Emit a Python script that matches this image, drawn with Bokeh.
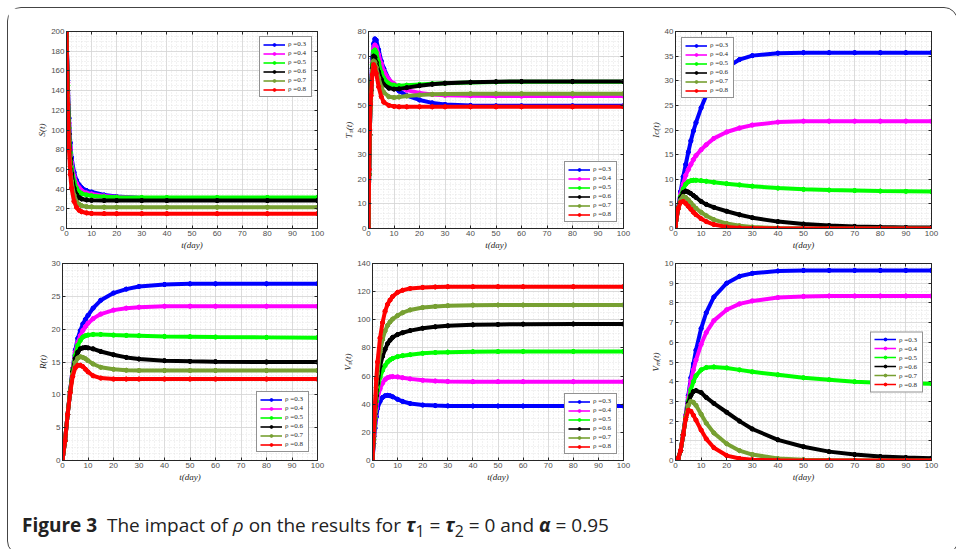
import numpy as np
from bokeh.plotting import figure
from bokeh.models import LinearAxis, Legend, LegendItem, Div, Range1d, FixedTicker
from bokeh.layouts import column, row
from bokeh.embed import file_html
from bokeh.resources import INLINE

# ---------------- data ----------------
rho_labels = ["ρ =0.3", "ρ =0.4", "ρ =0.5", "ρ =0.6", "ρ =0.7", "ρ =0.8"]
colors = ["#0000ff", "#ff00ff", "#00ff00", "#000000", "#77a032", "#ff0000"]

# S(t)
t_S = [0, 0.5, 1, 1.5, 2, 3, 4, 5, 6, 8, 10, 15, 20, 30, 40, 60, 80, 100]
S_03 = [200, 150, 112, 87, 72, 57, 49, 44.5, 41.5, 38.5, 37, 34, 32.5, 31, 30.6, 30.5, 30.5, 30.5]
S_04 = [200, 148, 107, 82, 67, 53, 45.5, 41.5, 38.5, 36, 35, 33, 32, 31, 30.6, 30.5, 30.5, 30.5]
S_05 = [200, 145, 102, 77, 62, 48, 41, 37.5, 35.5, 34, 33.2, 32.2, 31.8, 31.5, 31.5, 31.5, 31.5, 31.5]
S_06 = [200, 140, 96, 71, 56, 41, 34.5, 31.5, 30, 29, 28.6, 28.4, 28.3, 28.3, 28.3, 28.3, 28.3, 28.3]
S_07 = [200, 135, 89, 63, 48, 34, 27.5, 24.5, 23.2, 22.2, 21.9, 21.7, 21.6, 21.6, 21.6, 21.6, 21.6, 21.6]
S_08 = [200, 126, 80, 55, 41, 27.5, 21.5, 18.5, 17, 15.8, 15.3, 15.1, 15, 15, 15, 15, 15, 15]

# T_s(t)
t_T = [0, 0.25, 0.5, 0.75, 1, 1.5, 2, 2.5, 3, 4, 5, 6, 8, 10, 12, 15, 20, 25, 30, 40, 50, 60, 80, 100]
T_03 = [0, 22, 38, 50, 58, 69, 75, 77, 76.5, 72.5, 68, 65, 60.5, 57.5, 55.8, 54, 52.2, 51, 50.4, 50, 49.8, 49.8, 49.8, 49.8]
T_04 = [0, 22, 38, 50, 57, 67.5, 73, 74.5, 73.8, 70.5, 67, 64, 60.5, 58.8, 57.5, 56.2, 55, 54.4, 54.1, 53.9, 53.8, 53.8, 53.8, 53.8]
T_05 = [0, 22, 38, 50, 56.5, 66.5, 72, 72.5, 71.5, 67.5, 63.5, 61, 58.8, 58.2, 58, 58.2, 58.5, 58.8, 59, 59.3, 59.5, 59.6, 59.6, 59.6]
T_06 = [0, 22, 38, 50, 56, 65, 70, 69.5, 67.5, 63.5, 60.5, 58.5, 57, 56.6, 56.7, 57.2, 58, 58.6, 59, 59.4, 59.6, 59.7, 59.7, 59.7]
T_07 = [0, 22, 38, 49, 55, 64, 68, 67.5, 65.5, 61, 57.5, 55.3, 53.5, 53.2, 53.4, 53.8, 54.2, 54.5, 54.6, 54.7, 54.7, 54.7, 54.7, 54.7]
T_08 = [0, 24, 40, 50.5, 54, 62.5, 66.5, 65.5, 63, 57.5, 53.5, 51.3, 50, 49.6, 49.4, 49.4, 49.4, 49.4, 49.4, 49.4, 49.4, 49.4, 49.4, 49.4]

# I_c(t)
t_I = [0, 1, 2, 3, 4, 5, 6, 7, 8, 10, 12, 15, 20, 25, 30, 40, 50, 60, 70, 80, 90, 100]
I_03 = [0.5, 4, 7.5, 10.5, 13, 15.5, 17.8, 19.8, 21.5, 24.5, 27, 30, 32.7, 34.3, 35.1, 35.6, 35.7, 35.7, 35.7, 35.7, 35.7, 35.7]
I_04 = [0.5, 4, 7, 9, 10.8, 12, 13, 14, 14.8, 16, 17, 18.3, 19.6, 20.4, 21, 21.6, 21.8, 21.8, 21.8, 21.8, 21.8, 21.8]
I_05 = [0.5, 4, 6.5, 8, 9, 9.5, 9.7, 9.8, 9.8, 9.7, 9.6, 9.4, 9.1, 8.85, 8.6, 8.2, 7.95, 7.8, 7.7, 7.6, 7.55, 7.5]
I_06 = [0.5, 4, 6.2, 7.3, 7.6, 7.4, 7.1, 6.7, 6.3, 5.5, 4.9, 4.3, 3.5, 2.8, 2.2, 1.4, 0.9, 0.6, 0.42, 0.3, 0.22, 0.18]
I_07 = [0.5, 4, 5.8, 6.5, 6.3, 5.8, 5.2, 4.6, 4.1, 3.3, 2.6, 1.8, 1.0, 0.55, 0.3, 0.1, 0.04, 0.02, 0.01, 0, 0, 0]
I_08 = [0.5, 4, 5.3, 5.5, 5.1, 4.5, 3.9, 3.3, 2.8, 2.0, 1.4, 0.8, 0.3, 0.12, 0.05, 0.01, 0, 0, 0, 0, 0, 0]

# R(t)
t_R = [0, 1, 2, 3, 4, 5, 6, 7, 8, 9, 10, 12, 15, 20, 25, 30, 40, 50, 60, 80, 100]
R_03 = [0, 3, 7, 10.5, 14, 16.8, 18.6, 19.8, 20.8, 21.5, 22.1, 23.2, 24.4, 25.5, 26.1, 26.5, 26.8, 26.9, 26.9, 26.9, 26.9]
R_04 = [0, 3, 7, 10.5, 14, 16.5, 18, 19, 19.8, 20.4, 20.9, 21.6, 22.3, 22.9, 23.2, 23.35, 23.5, 23.5, 23.5, 23.5, 23.5]
R_05 = [0, 3, 7, 10.5, 13.8, 16, 17.5, 18.3, 18.8, 19.0, 19.1, 19.2, 19.2, 19.1, 19.05, 19.0, 18.9, 18.85, 18.8, 18.75, 18.7]
R_06 = [0, 3, 7, 10.5, 13.5, 15.5, 16.5, 17.0, 17.15, 17.2, 17.15, 17.0, 16.6, 16.1, 15.7, 15.45, 15.2, 15.1, 15.05, 15.0, 15.0]
R_07 = [0, 3, 7, 10.5, 13.2, 14.9, 15.6, 15.8, 15.7, 15.5, 15.2, 14.7, 14.2, 13.9, 13.75, 13.7, 13.7, 13.7, 13.7, 13.7, 13.7]
R_08 = [0, 3, 7, 10.3, 12.8, 14.1, 14.5, 14.5, 14.3, 13.9, 13.5, 12.9, 12.55, 12.4, 12.4, 12.4, 12.4, 12.4, 12.4, 12.4, 12.4]

# V_s(t)
t_Vs = [0, 0.5, 1, 1.5, 2, 3, 4, 5, 6, 7, 8, 10, 12, 15, 20, 25, 30, 40, 50, 60, 80, 100]
Vs_03 = [0, 12, 23, 31, 37, 42, 44.8, 46, 46.3, 46, 45.3, 43.5, 42, 40.5, 39.4, 39, 38.8, 38.7, 38.7, 38.7, 38.7, 38.7]
Vs_04 = [0, 14, 27, 37, 44, 51, 55, 57.5, 58.8, 59.4, 59.6, 59.4, 58.8, 58, 57, 56.5, 56.2, 56, 56, 56, 56, 56]
Vs_05 = [0, 15, 30, 42, 50, 59, 64, 67.5, 70, 71.5, 72.5, 73.8, 74.5, 75.2, 76.2, 76.7, 77, 77.3, 77.4, 77.5, 77.5, 77.5]
Vs_06 = [0, 17, 33, 46, 55, 67, 74, 79, 83, 85.5, 87.5, 89.5, 90.8, 92.3, 94, 95, 95.7, 96.4, 96.7, 96.9, 97, 97]
Vs_07 = [0, 18, 36, 52, 62, 77, 86, 92, 96, 98.5, 100.5, 103, 105, 107, 108.7, 109.5, 110, 110.4, 110.5, 110.5, 110.5, 110.5]
Vs_08 = [0, 20, 40, 58, 70, 87, 98, 106, 111, 114, 116.5, 119.5, 121, 122.3, 123, 123.3, 123.5, 123.5, 123.5, 123.5, 123.5, 123.5]

# V_m(t)
t_Vm = [0, 1, 2, 3, 4, 5, 6, 7, 8, 10, 12, 15, 20, 25, 30, 40, 50, 60, 70, 80, 90, 100]
Vm_03 = [0, 0.1, 0.5, 1.3, 2.3, 3.3, 4.2, 4.9, 5.6, 6.7, 7.5, 8.3, 9.0, 9.35, 9.5, 9.62, 9.65, 9.65, 9.65, 9.65, 9.65, 9.65]
Vm_04 = [0, 0.1, 0.5, 1.3, 2.3, 3.2, 4.0, 4.6, 5.1, 5.9, 6.5, 7.1, 7.65, 7.95, 8.1, 8.27, 8.33, 8.35, 8.35, 8.35, 8.35, 8.35]
Vm_05 = [0, 0.1, 0.5, 1.3, 2.2, 3.0, 3.6, 4.0, 4.3, 4.6, 4.72, 4.75, 4.7, 4.6, 4.5, 4.35, 4.2, 4.1, 4.0, 3.95, 3.92, 3.9]
Vm_06 = [0, 0.1, 0.5, 1.3, 2.2, 2.9, 3.3, 3.5, 3.55, 3.45, 3.2, 2.9, 2.45, 2.0, 1.6, 1.05, 0.7, 0.45, 0.3, 0.2, 0.15, 0.12]
Vm_07 = [0, 0.1, 0.5, 1.3, 2.2, 2.8, 3.0, 2.95, 2.8, 2.35, 1.9, 1.4, 0.85, 0.5, 0.3, 0.1, 0.04, 0.02, 0.01, 0, 0, 0]
Vm_08 = [0, 0.1, 0.5, 1.3, 2.1, 2.55, 2.5, 2.3, 2.05, 1.55, 1.1, 0.65, 0.25, 0.1, 0.04, 0.01, 0, 0, 0, 0, 0, 0]

x_major = list(range(0, 101, 10))
x_minor = list(range(0, 101, 2))

# ---------------- helpers ----------------
AX = "#262626"
TICK_TXT = "#4d4d4d"


def make_ticker(major, step_minor, top):
    minor = [float(v) for v in np.round(np.arange(0, top + 1e-9, step_minor), 4)]
    return FixedTicker(ticks=major, minor_ticks=minor)


def style_axis(ax, ticker, labels=True):
    ax.ticker = ticker
    ax.major_tick_in = 3
    ax.major_tick_out = 0
    ax.minor_tick_in = 0
    ax.minor_tick_out = 0
    ax.axis_line_color = AX
    ax.axis_line_width = 1
    ax.major_tick_line_color = AX
    ax.major_label_text_font = "Liberation Sans"
    ax.major_label_text_font_size = "8px"
    ax.major_label_text_color = TICK_TXT
    ax.major_label_standoff = 2
    if not labels:
        ax.major_label_overrides = {v: "" for v in ticker.ticks}
        ax.major_label_standoff = 0


def panel(t, ys, ylabel, ymax, ystep, yminor, loc, lmargin, w, h, left, right, top, bottom):
    p = figure(width=w, height=h, x_range=Range1d(0, 100), y_range=Range1d(0, ymax),
               output_backend="svg", toolbar_location=None,
               min_border_left=left, min_border_right=right,
               min_border_top=top, min_border_bottom=bottom,
               background_fill_color="white", border_fill_color="white")
    p.outline_line_color = AX
    xax = p.xaxis[0]
    yax = p.yaxis[0]
    xt = FixedTicker(ticks=x_major, minor_ticks=x_minor)
    yt = make_ticker(list(range(0, ymax + 1, ystep)), yminor, ymax)
    style_axis(xax, xt)
    style_axis(yax, yt)
    for g, tk in ((p.xgrid[0], xt), (p.ygrid[0], yt)):
        g.ticker = tk
        g.grid_line_color = "#d4d4d4"
        g.grid_line_width = 0.8
        g.minor_grid_line_color = "#dedede"
        g.minor_grid_line_dash = "1 2"
        g.minor_grid_line_width = 0.8

    xax.axis_label = "t(day)"
    yax.axis_label = ylabel
    for ax in (xax, yax):
        ax.axis_label_text_font = "Liberation Serif"
        ax.axis_label_text_font_style = "italic"
        ax.axis_label_text_font_size = "9px"
        ax.axis_label_text_color = AX
        ax.axis_label_standoff = 1

    top_ax = LinearAxis()
    right_ax = LinearAxis()
    style_axis(top_ax, FixedTicker(ticks=x_major), labels=False)
    style_axis(right_ax, FixedTicker(ticks=list(range(0, ymax + 1, ystep))), labels=False)
    p.add_layout(top_ax, "above")
    p.add_layout(right_ax, "right")

    items = []
    for y, c, lab in zip(ys, colors, rho_labels):
        # thin copies (hidden under the thick curve) serve as legend glyphs
        lr = p.line(t, y, line_color=c, line_width=1.6)
        sr = p.scatter(t, y, size=4, fill_color=c, line_color=c, marker="circle")
        p.line(t, y, line_color=c, line_width=4)
        p.scatter(t, y, size=4, fill_color=c, line_color=c, marker="circle")
        items.append(LegendItem(label=lab, renderers=[lr, sr]))
    leg = Legend(items=items, location=loc, margin=lmargin,
                 label_text_font="Liberation Serif", label_text_font_size="7px",
                 label_text_color=AX, glyph_width=22, glyph_height=7, label_height=7,
                 label_standoff=3, spacing=1, padding=3,
                 border_line_color=AX, border_line_width=1,
                 background_fill_color="white", background_fill_alpha=1)
    p.add_layout(leg)
    return p


p1 = panel(t_S, [S_03, S_04, S_05, S_06, S_07, S_08], "S(t)", 200, 20, 5,
           "top_right", 5, 319, 244, 58, 10, 23, 22)
p2 = panel(t_T, [T_03, T_04, T_05, T_06, T_07, T_08], "Tₛ(t)", 80, 10, 2,
           "bottom_right", 6, 310, 244, 41, 14, 23, 22)
p3 = panel(t_I, [I_03, I_04, I_05, I_06, I_07, I_08], "Iᴄ(t)", 40, 5, 1,
           "top_left", 6, 310, 244, 38, 16, 23, 22)
p4 = panel(t_R, [R_03, R_04, R_05, R_06, R_07, R_08], "R(t)", 30, 5, 1,
           "bottom_right", 8, 319, 232, 54, 10, 11, 22)
p5 = panel(t_Vs, [Vs_03, Vs_04, Vs_05, Vs_06, Vs_07, Vs_08], "Vₛ(t)", 140, 20, 5,
           "bottom_right", 6, 310, 232, 45, 14, 11, 22)
p6 = panel(t_Vm, [Vm_03, Vm_04, Vm_05, Vm_06, Vm_07, Vm_08], "Vₘ(t)", 10, 1, 0.2,
           "center_right", 8, 310, 232, 38, 16, 11, 22)

caption = Div(
    text=('<span style="font-weight:bold">Figure 3</span>&nbsp;&nbsp;The impact of '
          '<i>ρ</i> on the results for <b><i>τ</i></b><sub>1</sub> = <b><i>τ</i></b><sub>2</sub> = 0 '
          'and <b><i>α</i></b> = 0.95'),
    width=939, height=60,
    styles={"font-family": "Open Sans", "font-size": "19px", "color": "#222",
            "padding-left": "9px", "padding-top": "23px", "box-sizing": "border-box"})

layout = column(row(p1, p2, p3), row(p4, p5, p6), caption,
                styles={"border": "1px solid #444", "border-radius": "14px",
                        "background": "white", "margin-left": "7px", "margin-top": "7px"})

open("out.html", "w").write(file_html(layout, INLINE))
